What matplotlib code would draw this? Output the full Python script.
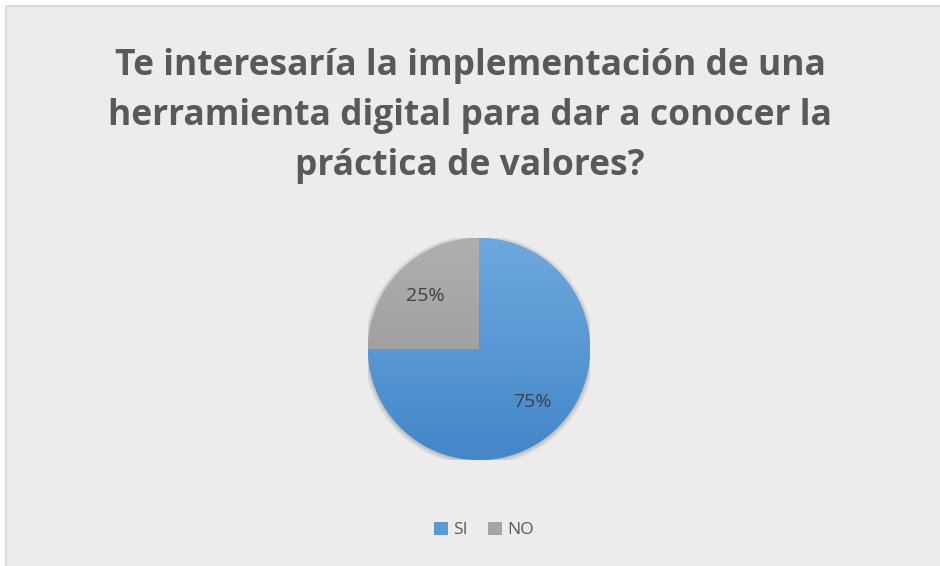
import numpy as np
import matplotlib.pyplot as plt
from matplotlib.patches import Rectangle, Patch
from matplotlib.colors import LinearSegmentedColormap

labels = ["SI", "NO"]
values = [75, 25]
colors = ["#5b9bd5", "#a5a5a5"]
# top / bottom shades for the vertical gradient of each slice
grad = [("#6ea8de", "#4287c9"), ("#afafaf", "#939393")]
title = "Te interesaría la implementación de una\nherramienta digital para dar a conocer la\npráctica de valores?"

fig = plt.figure(figsize=(9.4, 5.66), dpi=100)
fig.patch.set_facecolor("white")
# chart area background with thin border (runs off the right/bottom edge)
bg = Rectangle((6 / 940, -0.01), 1.01, 1.01 - 6 / 566, transform=fig.transFigure,
               facecolor="#ececec", edgecolor="#d4d4d4", linewidth=1.2, zorder=-1)
fig.add_artist(bg)

fig.text(0.5, 1 - 116 / 566, title, ha="center", va="center", fontsize=25.5,
         fontweight="bold", color="#595959", family="Open Sans", linespacing=1.5)

cx, cy, r = 479 / 940, 1 - 349 / 566, 111
ax = fig.add_axes([cx - r / 940, cy - r / 566, 2 * r / 940, 2 * r / 566], zorder=2)
ax.patch.set_alpha(0)

# soft shadow behind the pie
for k in range(6):
    ax.add_patch(plt.Circle((0.0, -0.01), 1.0 + 0.008 * k, color="#000000", alpha=0.035, lw=0, zorder=0))

wedges, texts, autotexts = ax.pie(values, colors=colors, startangle=90, counterclock=False,
                                  autopct="%d%%", pctdistance=0.68,
                                  textprops=dict(fontsize=14, color="#404040", family="Open Sans"),
                                  wedgeprops=dict(linewidth=0))
for w, (top, bot) in zip(wedges, grad):
    cmap = LinearSegmentedColormap.from_list("g", [bot, top])
    img = ax.imshow(np.linspace(0, 1, 256).reshape(-1, 1), cmap=cmap, origin="lower",
                    extent=(-1, 1, -1, 1), aspect="auto", zorder=1.5)
    img.set_clip_path(w)
for t in autotexts:
    t.set_zorder(3)
ax.set_xlim(-1.0, 1.0)
ax.set_ylim(-1.0, 1.0)
ax.set_aspect("equal")
ax.axis("off")

handles = [Patch(facecolor=c, edgecolor="none") for c in colors]
fig.legend(handles, labels, loc="center", bbox_to_anchor=(0.515, 1 - 530 / 566), ncol=2,
           frameon=False, handlelength=0.8, handleheight=0.8, handletextpad=0.3,
           columnspacing=1.2, prop=dict(family="Open Sans", size=12.5), labelcolor="#595959")

fig.savefig("out.png", dpi=100, facecolor=fig.get_facecolor())
